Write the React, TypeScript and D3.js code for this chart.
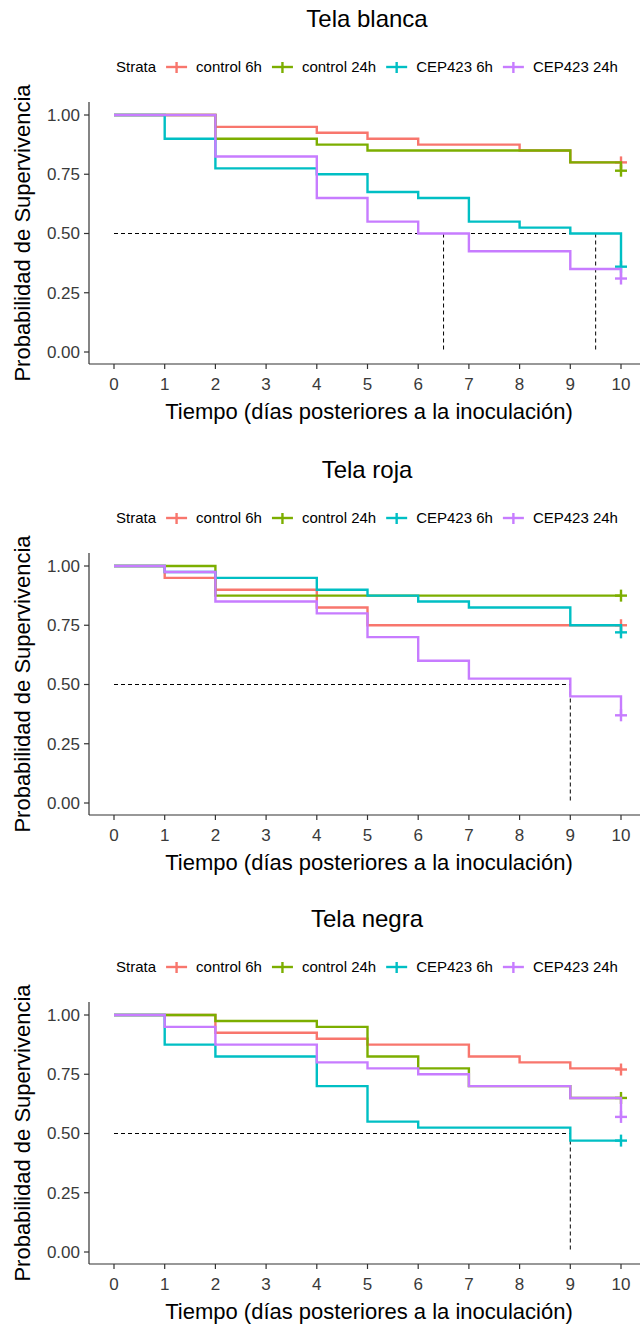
import React from "react";
import * as d3 from "d3";

// strata, colours and tick values
const strata = ["control 6h", "control 24h", "CEP423 6h", "CEP423 24h"];
const colors = ["#F8766D", "#7CAE00", "#00BFC4", "#C77CFF"];
const dayTicks = [0, 1, 2, 3, 4, 5, 6, 7, 8, 9, 10];
const probTicks = [0, 0.25, 0.5, 0.75, 1];

// Kaplan-Meier steps: [day, survival] (last point = censor at day 10)
const blancaControl6h = [[0, 1], [2, 0.95], [4, 0.925], [5, 0.9], [6, 0.875], [8, 0.85], [9, 0.8], [10, 0.8]];
const blancaControl24h = [[0, 1], [2, 0.9], [4, 0.875], [5, 0.85], [9, 0.8], [10, 0.765]];
const blancaCep6h = [[0, 1], [1, 0.9], [2, 0.775], [4, 0.75], [5, 0.675], [6, 0.65], [7, 0.55], [8, 0.525], [9, 0.5], [10, 0.36]];
const blancaCep24h = [[0, 1], [2, 0.825], [4, 0.65], [5, 0.55], [6, 0.5], [7, 0.425], [9, 0.35], [10, 0.31]];

const rojaControl6h = [[0, 1], [1, 0.95], [2, 0.9], [4, 0.825], [5, 0.75], [10, 0.75]];
const rojaControl24h = [[0, 1], [2, 0.875], [10, 0.875]];
const rojaCep6h = [[0, 1], [1, 0.975], [2, 0.95], [4, 0.9], [5, 0.875], [6, 0.85], [7, 0.825], [9, 0.75], [10, 0.72]];
const rojaCep24h = [[0, 1], [1, 0.975], [2, 0.85], [4, 0.8], [5, 0.7], [6, 0.6], [7, 0.525], [9, 0.45], [10, 0.37]];

const negraControl6h = [[0, 1], [2, 0.925], [4, 0.9], [5, 0.875], [7, 0.825], [8, 0.8], [9, 0.775], [10, 0.77]];
const negraControl24h = [[0, 1], [2, 0.975], [4, 0.95], [5, 0.825], [6, 0.775], [7, 0.7], [9, 0.65], [10, 0.65]];
const negraCep6h = [[0, 1], [1, 0.875], [2, 0.825], [4, 0.7], [5, 0.55], [6, 0.525], [9, 0.47], [10, 0.47]];
const negraCep24h = [[0, 1], [1, 0.95], [2, 0.875], [4, 0.8], [5, 0.775], [6, 0.75], [7, 0.7], [9, 0.65], [10, 0.57]];

const blancaMedians = [6.5, 9.5];
const rojaMedians = [9];
const negraMedians = [9];

const panels = [
  { title: "Tela blanca", series: [blancaControl6h, blancaControl24h, blancaCep6h, blancaCep24h], medians: blancaMedians },
  { title: "Tela roja", series: [rojaControl6h, rojaControl24h, rojaCep6h, rojaCep24h], medians: rojaMedians },
  { title: "Tela negra", series: [negraControl6h, negraControl24h, negraCep6h, negraCep24h], medians: negraMedians },
];

const W = 640;
const H = 1324;
const FONT = "'Liberation Sans', Arial, sans-serif";
const offsets = [0, 451, 900];

const measure = (txt: string, size: number) => {
  const ctx = document.createElement("canvas").getContext("2d")!;
  ctx.font = `${size}px ${FONT}`;
  return ctx.measureText(txt).width;
};

const Panel = ({ p, off }: { p: any; off: number }) => {
  const x = d3.scaleLinear().domain([0, 10]).range([114, 621]);
  const y = d3.scaleLinear().domain([0, 1]).range([352 + off, 115 + off]);
  const left = 89;
  const bottom = 364 + off;
  const top = 102 + off;
  const line = d3
    .line<number[]>()
    .x((d) => x(d[0]))
    .y((d) => y(d[1]))
    .curve(d3.curveStepAfter);

  // legend layout
  const lf = 15;
  const titleW = measure("Strata", lf);
  const items = strata.map((s) => measure(s, lf));
  const total = titleW + 10 + items.reduce((a, w) => a + 21 + 9 + w + 10, 0) - 10;
  let cx = 367 - total / 2;
  const legendY = 67 + off;
  const legendEls: any[] = [];
  legendEls.push(
    <text key="t" x={cx} y={legendY} dy="0.35em" fontSize={lf} fill="#000">Strata</text>
  );
  cx += titleW + 10;
  strata.forEach((s, i) => {
    legendEls.push(
      <g key={s}>
        <line x1={cx} x2={cx + 21} y1={legendY} y2={legendY} stroke={colors[i]} strokeWidth={2.4} />
        <line x1={cx + 10.5} x2={cx + 10.5} y1={legendY - 5} y2={legendY + 6} stroke={colors[i]} strokeWidth={2.4} />
        <text x={cx + 30} y={legendY} dy="0.35em" fontSize={lf} fill="#000">{s}</text>
      </g>
    );
    cx += 21 + 9 + items[i] + 10;
  });

  return (
    <g>
      <text x={367} y={27 + off} textAnchor="middle" fontSize={24} fill="#000">{p.title}</text>
      {legendEls}
      {/* median lines */}
      <line x1={x(0)} x2={x(d3.max(p.medians) as number)} y1={y(0.5)} y2={y(0.5)} stroke="#000" strokeWidth={1} strokeDasharray="4,3" />
      {p.medians.map((m: number) => (
        <line key={m} x1={x(m)} x2={x(m)} y1={y(0.5)} y2={y(0)} stroke="#000" strokeWidth={1} strokeDasharray="4,3" />
      ))}
      {p.series.map((s: number[][], i: number) => {
        const last = s[s.length - 1];
        return (
          <g key={i}>
            <path d={line(s) || ""} fill="none" stroke={colors[i]} strokeWidth={2.4} />
            <line x1={x(last[0]) - 6} x2={x(last[0]) + 6} y1={y(last[1])} y2={y(last[1])} stroke={colors[i]} strokeWidth={2.4} />
            <line x1={x(last[0])} x2={x(last[0])} y1={y(last[1]) - 6} y2={y(last[1]) + 6} stroke={colors[i]} strokeWidth={2.4} />
          </g>
        );
      })}
      {/* axes */}
      <line x1={left} x2={W} y1={bottom} y2={bottom} stroke="#333" strokeWidth={1.2} />
      <line x1={left} x2={left} y1={top} y2={bottom} stroke="#333" strokeWidth={1.2} />
      {probTicks.map((t) => (
        <g key={t}>
          <line x1={left - 5} x2={left} y1={y(t)} y2={y(t)} stroke="#333" strokeWidth={1.2} />
          <text x={80} y={y(t)} dy="0.35em" textAnchor="end" fontSize={17} fill="#3a3a3a">{d3.format(".2f")(t)}</text>
        </g>
      ))}
      {dayTicks.map((t) => (
        <g key={t}>
          <line x1={x(t)} x2={x(t)} y1={bottom} y2={bottom + 5} stroke="#333" strokeWidth={1.2} />
          <text x={x(t)} y={bottom + 20} dy="0.35em" textAnchor="middle" fontSize={17} fill="#3a3a3a">{t}</text>
        </g>
      ))}
      <text x={369} y={419 + off} textAnchor="middle" fontSize={22} fill="#000">Tiempo (días posteriores a la inoculación)</text>
      <text transform={`translate(30,${233 + off}) rotate(-90)`} textAnchor="middle" fontSize={22} fill="#000">Probabilidad de Supervivencia</text>
    </g>
  );
};

export default function App() {
  return (
    <svg width={W} height={H} style={{ position: "absolute", left: 0, top: 0, background: "#fff" }} fontFamily={FONT}>
      <rect width={W} height={H} fill="#fff" />
      {panels.map((p, i) => (
        <Panel key={p.title} p={p} off={offsets[i]} />
      ))}
    </svg>
  );
}
